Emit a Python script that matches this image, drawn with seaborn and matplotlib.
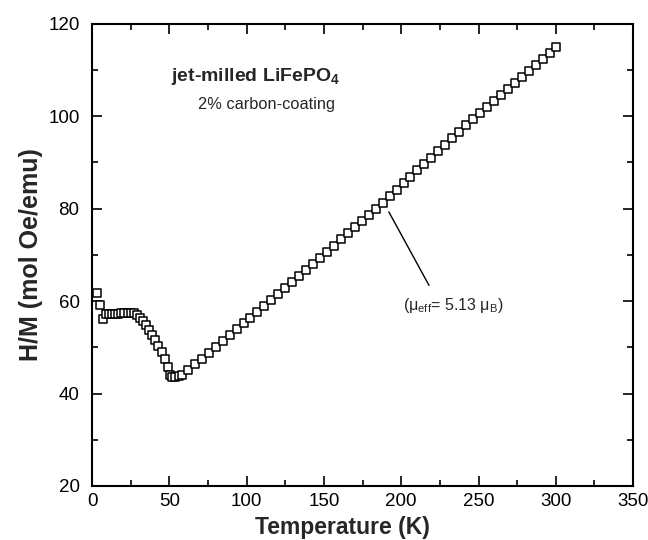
import matplotlib
matplotlib.use("Agg")
import matplotlib.pyplot as plt
from matplotlib.ticker import MultipleLocator
import seaborn as sns
import pandas as pd

# Low-temperature region (K) and H/M values
temp_low = [3.5, 5, 7, 9, 11, 13, 15, 17, 19, 21, 23, 25, 27, 29, 31, 33, 35,
            37, 39, 41, 43, 45, 47, 49, 50.5, 52, 54, 56, 58]
hm_low = [61.7, 59.2, 56.2, 57.2, 57.3, 57.3, 57.3, 57.3, 57.4, 57.4, 57.5, 57.5,
          57.4, 57.0, 56.4, 55.7, 54.8, 53.8, 52.6, 51.5, 50.2, 48.9, 47.4, 45.8,
          44.0, 43.6, 43.6, 43.7, 44.0]

# Paramagnetic (Curie-Weiss) region
temp_high = [62, 66.5, 71, 75.5, 80, 84.5, 89, 93.5, 98, 102.5, 107, 111.5, 116,
             120.5, 125, 129.5, 134, 138.5, 143, 147.5, 152, 156.5, 161, 165.5,
             170, 174.5, 179, 183.5, 188, 192.5, 197, 201.5, 206, 210.5, 215,
             219.5, 224, 228.5, 233, 237.5, 242, 246.5, 251, 255.5, 260, 264.5,
             269, 273.5, 278, 282.5, 287, 291.5, 296, 300]
hm_high = [45.0, 46.3, 47.5, 48.8, 50.1, 51.3, 52.6, 53.9, 55.2, 56.4, 57.7, 59.0,
           60.2, 61.5, 62.8, 64.1, 65.4, 66.8, 68.1, 69.4, 70.7, 72.0, 73.4, 74.7,
           76.0, 77.3, 78.6, 79.9, 81.3, 82.7, 84.1, 85.5, 86.9, 88.3, 89.6, 91.0,
           92.4, 93.8, 95.2, 96.6, 98.0, 99.3, 100.6, 101.9, 103.2, 104.5, 105.8,
           107.1, 108.5, 109.8, 111.1, 112.4, 113.7, 115.0]

x_ticks = [0, 50, 100, 150, 200, 250, 300, 350]
y_ticks = [20, 40, 60, 80, 100, 120]

title_text = "jet-milled LiFePO$_4$"
subtitle_text = "2% carbon-coating"
annot_text = "($\\mu_{eff}$= 5.13 $\\mu_B$)"

df = pd.DataFrame({"T": temp_low + temp_high, "HM": hm_low + hm_high})

sns.set_style("ticks")
plt.rcParams["font.family"] = ["Liberation Sans", "DejaVu Sans"]
plt.rcParams["mathtext.fontset"] = "custom"
plt.rcParams["mathtext.rm"] = "Liberation Sans"
plt.rcParams["mathtext.it"] = "Liberation Sans:italic"
plt.rcParams["mathtext.bf"] = "Liberation Sans:bold"
plt.rcParams["mathtext.default"] = "regular"

fig = plt.figure(figsize=(6.48, 5.4), dpi=100)
ax = fig.add_axes([0.142, 0.1, 0.835, 0.856])

sns.scatterplot(data=df, x="T", y="HM", ax=ax, marker="s", s=38,
                facecolor="white", edgecolor="black", linewidth=1.1, zorder=3)

ax.set_xlim(0, 350)
ax.set_ylim(20, 120)
ax.set_xticks(x_ticks)
ax.set_yticks(y_ticks)
ax.xaxis.set_minor_locator(MultipleLocator(25))
ax.yaxis.set_minor_locator(MultipleLocator(10))
ax.tick_params(which="both", direction="in", top=True, right=True,
               width=1.2, labelsize=13.5, colors="black")
ax.tick_params(which="major", length=7)
ax.tick_params(axis="y", which="major", pad=9)
ax.tick_params(axis="x", which="major", pad=5)
ax.tick_params(which="minor", length=4)
for sp in ax.spines.values():
    sp.set_linewidth(1.5)
    sp.set_color("black")

ax.set_xlabel("Temperature (K)", fontsize=16.5, fontweight="bold", labelpad=1)
ax.xaxis.set_label_coords(0.462, -0.065)
ax.set_ylabel("H/M (mol Oe/emu)", fontsize=18, fontweight="bold", labelpad=4)

ax.text(51, 108.5, title_text, fontsize=14, fontweight="bold", ha="left", va="center")
ax.text(68.5, 102.5, subtitle_text, fontsize=11.8, ha="left", va="center")

ax.plot([192, 218], [79.3, 63.4], color="black", lw=1.0)
ax.text(233.5, 59, annot_text, fontsize=11.5, ha="center", va="center")

fig.savefig("out.png", dpi=100)
